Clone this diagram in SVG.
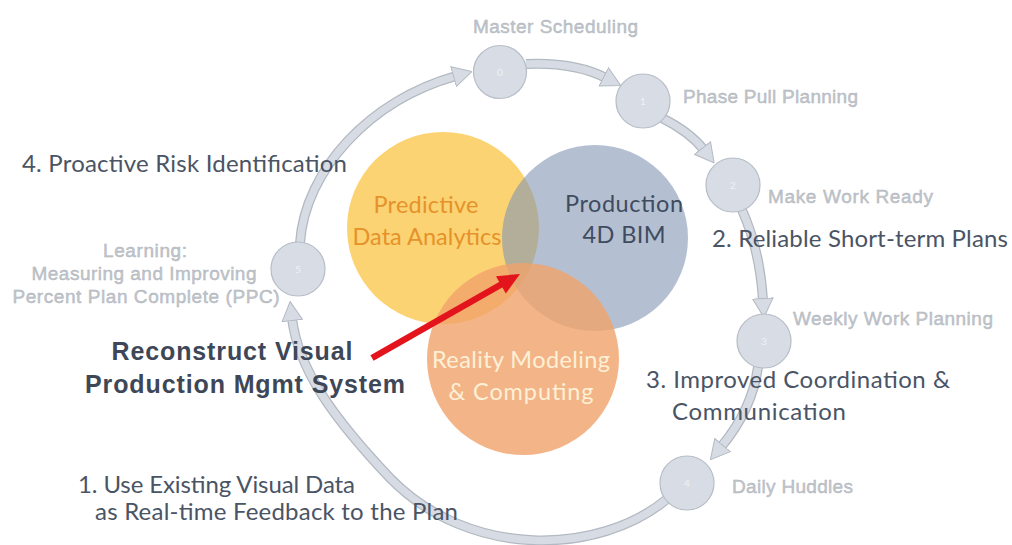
<svg xmlns="http://www.w3.org/2000/svg" width="1012" height="545" viewBox="0 0 1012 545">
  <style>
    .ring-o { fill: none; stroke: #b3b9c2; stroke-width: 10; }
    .ring { fill: none; stroke: #d7dce4; stroke-width: 7.5; marker-end: url(#head); }
    .step { fill: #d8dde5; stroke: #b7bdc6; stroke-width: 1.2; }
    .digit { font-family: Lato, "Open Sans", sans-serif; font-size: 10px; fill: #eef1f5; text-anchor: middle; }
    .stage { font-family: "Liberation Sans", Arial, sans-serif; font-size: 19px; fill: #c2c6cc; stroke: #aab0b8; stroke-width: 0.4; }
    .goal { font-family: Lato, "Open Sans", sans-serif; font-size: 24px; fill: #4a5465; }
    .venn { font-family: Lato, "Open Sans", sans-serif; font-size: 23.5px; text-anchor: middle; }
    .title { font-family: "Liberation Sans", Arial, sans-serif; font-size: 25px; font-weight: bold; fill: #3e4757; text-anchor: middle; }
  </style>
  <defs>
    <marker id="head" viewBox="0 0 20 22" refX="3" refY="11" markerWidth="20" markerHeight="22" markerUnits="userSpaceOnUse" orient="auto">
      <path d="M0.5,0.8 L19.5,11 L0.5,21.2 z" fill="#d7dce4" stroke="#b3b9c2" stroke-width="1"/>
    </marker>
  </defs>

  <!-- cycle connectors -->
  <g id="connectors">
    <path class="ring-o" d="M300 243 C305 170 370 100 456 76"/>
    <path class="ring" d="M300 243 C305 170 370 100 456 76"/>
    <path class="ring-o" d="M526 64 Q575 62 606 78"/>
    <path class="ring" d="M526 64 Q575 62 606 78"/>
    <path class="ring-o" d="M662 118 Q690 132 704 150"/>
    <path class="ring" d="M662 118 Q690 132 704 150"/>
    <path class="ring-o" d="M742 210 Q760 250 763 301"/>
    <path class="ring" d="M742 210 Q760 250 763 301"/>
    <path class="ring-o" d="M758 367 Q752 410 721 447"/>
    <path class="ring" d="M758 367 Q752 410 721 447"/>
    <path class="ring-o" d="M667 499 C600 555 470 560 390 478 C335 420 298 370 292 318"/>
    <path class="ring" d="M667 499 C600 555 470 560 390 478 C335 420 298 370 292 318"/>
  </g>

  <!-- cycle steps -->
  <g id="step0"><circle class="step" cx="500" cy="72" r="26.5"/><text class="digit" x="500" y="76">0</text></g>
  <g id="step1"><circle class="step" cx="643" cy="101" r="27"/><text class="digit" x="643" y="105">1</text></g>
  <g id="step2"><circle class="step" cx="733" cy="185" r="27"/><text class="digit" x="733" y="189">2</text></g>
  <g id="step3"><circle class="step" cx="764" cy="341" r="27"/><text class="digit" x="764" y="345">3</text></g>
  <g id="step4"><circle class="step" cx="687" cy="483" r="27"/><text class="digit" x="687" y="487">4</text></g>
  <g id="step5"><circle class="step" cx="298" cy="269" r="27"/><text class="digit" x="298" y="273">5</text></g>

  <!-- stage labels -->
  <g id="stage-labels">
    <text class="stage" x="473" y="33" textLength="165">Master Scheduling</text>
    <text class="stage" x="683" y="103" textLength="175">Phase Pull Planning</text>
    <text class="stage" x="768" y="203" textLength="165">Make Work Ready</text>
    <text class="stage" x="793" y="325" textLength="200">Weekly Work Planning</text>
    <text class="stage" x="732" y="493" textLength="121">Daily Huddles</text>
    <text class="stage" x="145" y="257" text-anchor="middle" textLength="84">Learning:</text>
    <text class="stage" x="144" y="280" text-anchor="middle" textLength="225">Measuring and Improving</text>
    <text class="stage" x="146" y="303" text-anchor="middle" textLength="267">Percent Plan Complete (PPC)</text>
  </g>

  <!-- three overlapping domains -->
  <g id="venn-analytics"><circle cx="443" cy="228" r="96" fill="#fcd372"/></g>
  <g id="venn-bim"><circle cx="595" cy="238" r="93" fill="#8296b4" fill-opacity="0.6"/></g>
  <g id="venn-reality"><circle cx="523" cy="359" r="96" fill="#f0a26a" fill-opacity="0.8"/></g>
  <g id="venn-labels">
    <text class="venn" x="426" y="213" fill="#e5922a" textLength="105">Predictive</text>
    <text class="venn" x="427" y="245" fill="#e5922a" textLength="149">Data Analytics</text>
    <text class="venn" x="624" y="212" fill="#3f4b5f" textLength="118">Production</text>
    <text class="venn" x="624" y="243" fill="#3f4b5f" textLength="83">4D BIM</text>
    <text class="venn" x="521" y="368" fill="#fdf0d6" textLength="178">Reality Modeling</text>
    <text class="venn" x="521" y="400" fill="#fdf0d6" textLength="145">&amp; Computing</text>
  </g>

  <!-- outcome statements -->
  <g id="goals">
    <text class="goal" x="22" y="172" textLength="325">4. Proactive Risk Identification</text>
    <text class="goal" x="712" y="247" textLength="296">2. Reliable Short-term Plans</text>
    <text class="goal" x="646" y="388" textLength="304">3. Improved Coordination &amp;</text>
    <text class="goal" x="672" y="420" textLength="174">Communication</text>
    <text class="goal" x="78" y="493" textLength="277">1. Use Existing Visual Data</text>
    <text class="goal" x="95" y="520" textLength="363">as Real-time Feedback to the Plan</text>
  </g>

  <!-- central system -->
  <g id="system">
    <text class="title" x="232" y="360" textLength="241">Reconstruct Visual</text>
    <text class="title" x="245" y="393" textLength="320">Production Mgmt System</text>
  </g>

  <!-- pointer to the overlap -->
  <g id="pointer">
    <line x1="372" y1="358" x2="502" y2="284" stroke="#e3141c" stroke-width="6.5"/>
    <polygon points="520,274 505.8,293.6 496,276.2" fill="#e3141c"/>
  </g>
</svg>
